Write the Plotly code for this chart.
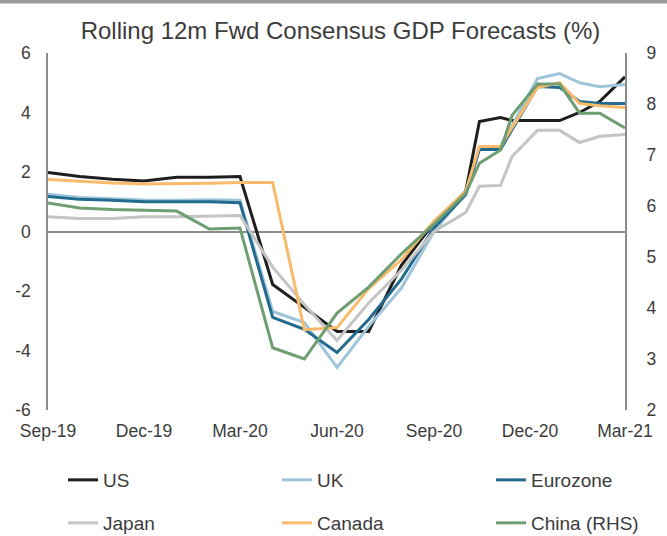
import plotly.graph_objects as go

# ---------------- data ----------------
dates = ["2019-09-01", "2019-10-01", "2019-11-01", "2019-12-01", "2020-01-01",
         "2020-02-01", "2020-03-01", "2020-04-01", "2020-05-01", "2020-06-01",
         "2020-07-01", "2020-08-01", "2020-09-01", "2020-10-01", "2020-10-14",
         "2020-11-03", "2020-11-14", "2020-12-08", "2020-12-29", "2021-01-17",
         "2021-02-05", "2021-03-01"]

us = [1.98, 1.85, 1.76, 1.70, 1.82, 1.82, 1.85, -1.78, -2.55, -3.36, -3.36,
      -1.14, 0.30, 1.35, 3.70, 3.83, 3.73, 3.73, 3.73, 4.00, 4.37, 5.20]
uk = [1.25, 1.14, 1.10, 1.06, 1.05, 1.07, 1.05, -2.69, -3.06, -4.57, -3.19,
      -1.90, 0.00, 1.30, 2.86, 2.86, 3.56, 5.14, 5.31, 5.00, 4.87, 4.94]
eurozone = [1.18, 1.08, 1.05, 1.00, 1.00, 1.00, 0.97, -2.89, -3.29, -4.07, -2.96,
            -1.60, 0.13, 1.24, 2.76, 2.76, 3.43, 4.87, 4.84, 4.37, 4.30, 4.30]
japan = [0.50, 0.44, 0.44, 0.50, 0.50, 0.52, 0.54, -1.20, -2.45, -3.66, -2.40,
         -1.30, 0.00, 0.64, 1.52, 1.55, 2.52, 3.40, 3.40, 2.99, 3.20, 3.26]
canada = [1.75, 1.68, 1.63, 1.60, 1.60, 1.62, 1.65, 1.65, -3.30, -3.23, -1.92,
          -0.95, 0.35, 1.35, 2.86, 2.86, 3.50, 4.84, 5.00, 4.30, 4.23, 4.17]
china_rhs = [6.06, 5.96, 5.93, 5.92, 5.90, 5.55, 5.57, 3.22, 3.00, 3.90, 4.41,
             5.06, 5.65, 6.25, 6.84, 7.10, 7.78, 8.39, 8.39, 7.82, 7.82, 7.53]

series_names = ["US", "UK", "Eurozone", "Japan", "Canada", "China (RHS)"]

x_tick_dates = ["2019-09-01", "2019-12-01", "2020-03-01", "2020-06-01",
                "2020-09-01", "2020-12-01", "2021-03-01"]
x_tick_labels = ["Sep-19", "Dec-19", "Mar-20", "Jun-20", "Sep-20", "Dec-20", "Mar-21"]
left_tick_vals = [-6, -4, -2, 0, 2, 4, 6]
left_tick_labels = ["-6", "-4", "-2", "0", "2", "4", "6"]
right_tick_vals = [2, 3, 4, 5, 6, 7, 8, 9]
right_tick_labels = ["2", "3", "4", "5", "6", "7", "8", "9"]

# ---------------- style ----------------
colors = ["#1e1e1e", "#9ec5da", "#236b8e", "#c4c4c4", "#f9bb6b", "#6e9e72"]
FONT = "Liberation Sans, Arial, sans-serif"
TXT = "#3c3c3c"

# plot area in pixels
L, R, T, B = 48, 42, 53, 126
PW = 667 - L - R
PH = 536 - T - B

fig = go.Figure()
all_series = [us, uk, eurozone, japan, canada, china_rhs]
legend_ids = ["legend", "legend2", "legend3", "legend4", "legend5", "legend6"]
for i, (name, vals) in enumerate(zip(series_names, all_series)):
    fig.add_trace(go.Scatter(
        x=dates, y=vals, name=name, mode="lines",
        line=dict(color=colors[i], width=3),
        yaxis="y2" if i == 5 else "y",
        legend=legend_ids[i], showlegend=True,
    ))

# legend placement (pixel origin of each entry)
leg_x_px = [63, 277, 491, 63, 277, 491]
leg_y_px = [480, 480, 480, 523, 523, 523]
legend_layouts = {}
for lid, xp, yp in zip(legend_ids, leg_x_px, leg_y_px):
    legend_layouts[lid] = dict(
        orientation="h", x=(xp - L) / PW, xanchor="left",
        y=(T + PH - yp) / PH, yanchor="middle", visible=True,
        font=dict(size=19, color=TXT, family=FONT),
        bgcolor="rgba(0,0,0,0)")

fig.update_layout(
    width=667, height=536, showlegend=True,
    margin=dict(l=L, r=R, t=T, b=B, autoexpand=False),
    paper_bgcolor="white", plot_bgcolor="white",
    font=dict(family=FONT, color=TXT, size=18),
    title=dict(text="Rolling 12m Fwd Consensus GDP Forecasts (%)",
               x=0.5105, xref="container", xanchor="center",
               y=1 - 31 / 536, yref="container", yanchor="middle",
               font=dict(size=24, color=TXT, family=FONT)),
    xaxis=dict(type="date", range=["2019-09-01", "2021-03-01"],
               tickvals=x_tick_dates, ticktext=x_tick_labels,
               showgrid=False, showline=False, zeroline=False, ticks="",
               ticklabelstandoff=8, tickfont=dict(size=17.5)),
    yaxis=dict(range=[-6, 6], tickvals=left_tick_vals, ticktext=left_tick_labels,
               showgrid=False, showline=True, linecolor="#8c8c8c", linewidth=1.5,
               zeroline=True, zerolinecolor="#8c8c8c", zerolinewidth=1.5,
               ticks="", ticklabelstandoff=12, tickfont=dict(size=17.5)),
    yaxis2=dict(range=[2, 9], tickvals=right_tick_vals, ticktext=right_tick_labels,
                overlaying="y", side="right", anchor="x",
                showgrid=False, showline=True, linecolor="#8c8c8c", linewidth=2,
                zeroline=False, ticks="", ticklabelstandoff=16,
                tickfont=dict(size=17.5)),
    shapes=[dict(type="rect", xref="paper", yref="paper",
                 x0=-0.2, x1=1.2, y0=1 + 49.5 / PH, y1=1 + 54 / PH,
                 fillcolor="#9a9a9a", line=dict(width=0), layer="above")],
    **legend_layouts,
)

fig.write_html("out.html",
               config={"displayModeBar": False},
               post_script="document.body.style.margin='0';"
                           "document.body.style.overflow='hidden';")
